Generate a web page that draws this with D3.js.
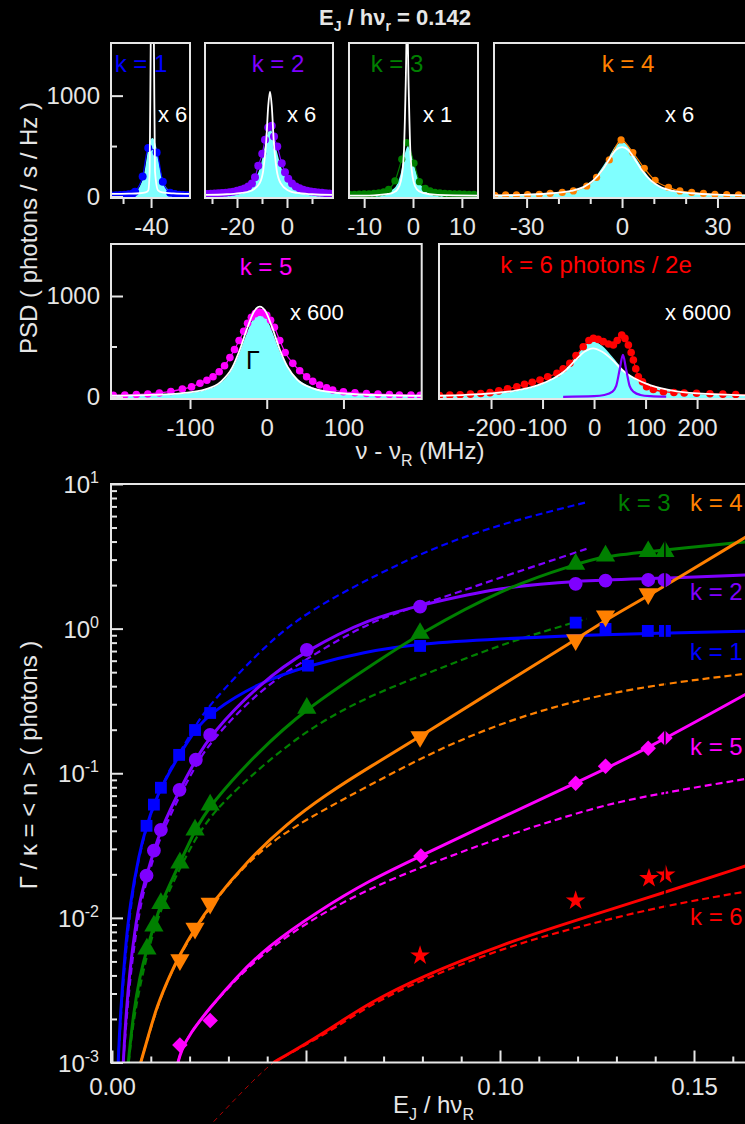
<!DOCTYPE html>
<html>
<head>
<meta charset="utf-8">
<script src="https://cdn.jsdelivr.net/npm/d3@7"></script>
<style>
body { margin: 0; background: #000; }
svg { display: block; background: #000; font-family: "Liberation Sans", Arial, sans-serif; }
</style>
</head>
<body>
<svg width="745" height="1124"></svg>
<script>
//main plot: Gamma/kappa = <n> vs E_J / h nu_R, measured points
var k1X = [0.0089, 0.0108, 0.0126, 0.0173, 0.0214, 0.0253, 0.0505, 0.0794, 0.1195, 0.1272, 0.1381, 0.1425],
    k1Y = [0.0433, 0.0607, 0.0794, 0.134, 0.199, 0.261, 0.555, 0.759, 1.10, 0.995, 0.964, 0.964];
var k2X = [0.0089, 0.0108, 0.0126, 0.0174, 0.0216, 0.0253, 0.0502, 0.0794, 0.1195, 0.1272, 0.1382, 0.1424],
    k2Y = [0.0196, 0.0292, 0.0406, 0.0768, 0.124, 0.184, 0.713, 1.42, 2.04, 2.15, 2.17, 2.17];
var k3X = [0.0090, 0.0108, 0.0126, 0.0175, 0.0214, 0.0253, 0.0502, 0.0794, 0.1195, 0.1272, 0.1382, 0.1425],
    k3Y = [0.0061, 0.0088, 0.0126, 0.0240, 0.0406, 0.0604, 0.282, 0.929, 2.79, 3.18, 3.41, 3.41];
var k4X = [0.0175, 0.0214, 0.0253, 0.0794, 0.1195, 0.1272, 0.1382],
    k4Y = [0.00512, 0.00847, 0.0126, 0.179, 0.836, 1.22, 1.74];
var k5X = [0.0175, 0.0253, 0.0796, 0.1195, 0.1272, 0.1382, 0.1425],
    k5Y = [0.00132, 0.00195, 0.0268, 0.0853, 0.112, 0.149, 0.175];
var k6X = [0.0794, 0.1195, 0.1384, 0.1427],
    k6Y = [0.00548, 0.01315, 0.0188, 0.0199];

//solid curves
var k1FitX = [0.0016, 0.0021, 0.0034, 0.0046, 0.0070, 0.0089, 0.0108, 0.0126, 0.0173, 0.0214, 0.0253, 0.0375, 0.0505, 0.065, 0.0794, 0.100, 0.120, 0.140, 0.164],
    k1FitY = [0.001, 0.00207, 0.0060, 0.0123, 0.028, 0.0433, 0.0607, 0.0794, 0.134, 0.199, 0.261, 0.42, 0.555, 0.69, 0.79, 0.85, 0.90, 0.93, 0.96];
var k2FitX = [0.0029, 0.0036, 0.0046, 0.0059, 0.0072, 0.0089, 0.0108, 0.0126, 0.0174, 0.0216, 0.0253, 0.0381, 0.0502, 0.0665, 0.0794, 0.1008, 0.1195, 0.140, 0.164],
    k2FitY = [0.001, 0.00213, 0.00437, 0.00825, 0.0133, 0.0196, 0.0292, 0.0406, 0.0768, 0.124, 0.184, 0.419, 0.713, 1.18, 1.45, 1.95, 2.14, 2.22, 2.35];
var k3FitX = [0.0042, 0.0055, 0.0072, 0.0090, 0.0108, 0.0126, 0.0175, 0.0214, 0.0253, 0.0375, 0.0502, 0.0665, 0.0794, 0.1008, 0.1195, 0.1272, 0.1382, 0.164],
    k3FitY = [0.001, 0.0022, 0.0040, 0.0061, 0.0088, 0.0126, 0.0240, 0.0406, 0.0604, 0.14, 0.282, 0.55, 0.929, 1.9, 2.79, 3.18, 3.41, 4.0];
var k4FitX = [0.0074, 0.0093, 0.0115, 0.0149, 0.0175, 0.0214, 0.0253, 0.035, 0.045, 0.055, 0.0665, 0.0794, 0.100, 0.1195, 0.1272, 0.1382, 0.164],
    k4FitY = [0.001, 0.0015, 0.00243, 0.0040, 0.0056, 0.0085, 0.0122, 0.025, 0.0447, 0.0708, 0.111, 0.179, 0.40, 0.836, 1.15, 1.68, 4.4];
var k5FitX = [0.0170, 0.0178, 0.0200, 0.0253, 0.0317, 0.0399, 0.0528, 0.0665, 0.0796, 0.100, 0.1195, 0.1382, 0.164],
    k5FitY = [0.001, 0.0012, 0.00158, 0.0024, 0.0038, 0.0063, 0.011, 0.0183, 0.0268, 0.049, 0.0853, 0.149, 0.36];
var k6FitX = [0.0416, 0.050, 0.057, 0.0665, 0.0794, 0.1008, 0.1195, 0.1425, 0.164],
    k6FitY = [0.001, 0.00135, 0.00177, 0.0026, 0.0039, 0.0066, 0.0096, 0.0150, 0.0232];

//dashed curves
var k1DashX = [0.00155, 0.00335, 0.0067, 0.0126, 0.0173, 0.0214, 0.0245, 0.0399, 0.0510, 0.0691, 0.0837, 0.1008, 0.1223],
    k1DashY = [0.001, 0.0060, 0.0295, 0.083, 0.1375, 0.209, 0.287, 0.792, 1.346, 2.43, 3.7, 5.36, 7.48];
var k2DashX = [0.0029, 0.0046, 0.0072, 0.0089, 0.0108, 0.0126, 0.0174, 0.0216, 0.0253, 0.0381, 0.051, 0.0665, 0.0794, 0.1008, 0.1223],
    k2DashY = [0.001, 0.0040, 0.0120, 0.0178, 0.0265, 0.037, 0.070, 0.113, 0.165, 0.38, 0.64, 1.12, 1.45, 2.29, 3.56];
var k3DashX = [0.0043, 0.0056, 0.0090, 0.0126, 0.0175, 0.0214, 0.0253, 0.0313, 0.0485, 0.0665, 0.0837, 0.1008, 0.1223],
    k3DashY = [0.001, 0.0021, 0.0057, 0.0117, 0.022, 0.035, 0.050, 0.075, 0.19, 0.348, 0.518, 0.79, 1.17];
var k4DashX = [0.0074, 0.0115, 0.0149, 0.0175, 0.0214, 0.0253, 0.0313, 0.0399, 0.050, 0.0665, 0.0837, 0.1008, 0.1195, 0.140, 0.164],
    k4DashY = [0.001, 0.0024, 0.0040, 0.0055, 0.0083, 0.0118, 0.019, 0.032, 0.048, 0.083, 0.145, 0.225, 0.32, 0.41, 0.49];
var k5DashX = [0.0170, 0.0178, 0.0200, 0.0253, 0.0317, 0.0399, 0.0528, 0.0665, 0.0796, 0.100, 0.1195, 0.1335, 0.164],
    k5DashY = [0.001, 0.0012, 0.00158, 0.0024, 0.0037, 0.0060, 0.0103, 0.016, 0.0224, 0.036, 0.0528, 0.067, 0.092];
var k6DashX = [0.0416, 0.050, 0.057, 0.0665, 0.0794, 0.1008, 0.1195, 0.1425, 0.164],
    k6DashY = [0.001, 0.00133, 0.0017, 0.0025, 0.0037, 0.0062, 0.0086, 0.0122, 0.0153];
//part of the k = 6 dashed curve drawn below the axis
var k6TailX = [0.0262, 0.0373, 0.0416],
    k6TailY = [0.00039, 0.0008, 0.001];

var mainXTicks = [0, 0.05, 0.10, 0.15],
    mainXLabels = ["0.00", "", "0.10", "0.15"],
    mainYExp = [-3, -2, -1, 0, 1];
var ejCut = 0.1425;

//PSD panels (MHz, photons / s / Hz)
var p1DotX = [-54, -52.5, -51, -49.5, -48, -46.5, -45.7, -43.0, -41.0, -38.0, -35.8, -33.2, -31.5, -30, -28.5, -27],
    p1DotY = [10, 12, 14, 17, 22, 30, 48, 197, 480, 436, 147, 38, 25, 18, 14, 12];
var p1FillX = [-54.3, -50, -46, -44, -42.5, -41.5, -40.5, -39.5, -38.5, -37.5, -36.5, -35, -33, -30, -26.1],
    p1FillY = [12, 20, 45, 100, 220, 390, 540, 580, 530, 390, 240, 110, 55, 25, 15];
var p1WhiteX = [-54.3, -48, -44, -42, -41, -40.5, -40.1, -39.55, -39.0, -38.6, -37.5, -36, -32, -26.1],
    p1WhiteY = [25, 28, 32, 40, 60, 250, 1600, 2500, 1600, 250, 60, 40, 30, 25];

var p2DotX = [-32, -30.5, -29, -27.5, -26, -24.5, -23, -21.5, -20, -18.5, -17, -15.5, -14, -12.8, -11.5, -9.9, -8.8, -7.5, -6.1, -5.2, -3.9, -2.1, -0.8, 0.5, 2, 3.5, 5, 6.5, 8, 9.5, 11, 12.5, 14, 15.5, 17],
    p2DotY = [25, 27, 29, 31, 34, 38, 42, 48, 56, 66, 80, 100, 130, 190, 306, 423, 562, 685, 701, 595, 496, 330, 240, 175, 130, 100, 82, 68, 58, 50, 44, 40, 36, 33, 30];
var p2FillX = [-32.8, -26, -20, -16, -13, -11, -9.5, -8, -6.8, -5.5, -4, -2.5, -0.5, 2, 6, 12, 18.4],
    p2FillY = [25, 35, 60, 100, 170, 270, 420, 600, 680, 600, 440, 300, 190, 110, 65, 38, 28];
var p2WhiteX = [-32.8, -24, -18, -14, -11, -9.5, -8.3, -7.5, -6.8, -6.1, -5.3, -4.1, -2.5, 0.5, 4, 10, 18.4],
    p2WhiteY = [15, 22, 35, 60, 130, 260, 550, 900, 1040, 900, 550, 260, 130, 60, 35, 22, 15];

var p3DotX = [-13, -12, -11, -10, -9, -8, -7, -6, -5, -3.7, -2.3, -1.3, 0.2, 1.3, 2.5, 3.5, 4.5, 5.5, 6.5, 7.5, 8.5, 9.5, 10.5, 11.5, 12.5],
    p3DotY = [20, 22, 24, 25, 27, 30, 35, 45, 70, 154, 370, 535, 330, 147, 80, 55, 42, 35, 30, 28, 26, 25, 24, 22, 21];
var p3FillX = [-13.1, -9, -6, -4.5, -3.3, -2.5, -1.8, -1, -0.2, 0.6, 1.5, 2.7, 4.5, 7, 10, 13.3],
    p3FillY = [15, 20, 35, 60, 120, 230, 400, 500, 400, 250, 130, 70, 40, 25, 20, 15];
var p3WhiteX = [-13.1, -8, -5, -4, -3.2, -2.5, -1.9, -1.5, -1.2, -0.9, -0.5, 0.1, 0.8, 2, 5, 13.3],
    p3WhiteY = [8, 12, 25, 40, 70, 150, 400, 1100, 1800, 1100, 400, 150, 70, 35, 15, 8];

var p4DotX = [-40, -36.6, -33.2, -29.7, -26, -22.6, -18.8, -15.3, -11.1, -8, -4.0, -0.3, 3.4, 7.0, 10.4, 14.6, 18.2, 21.9, 25.6, 29.2, 32.9, 36.6, 40.2],
    p4DotY = [12, 15, 16, 18, 22, 30, 40, 55, 104, 190, 363, 561, 436, 280, 160, 90, 55, 40, 30, 22, 18, 15, 13];
var p4FillX = [-40.2, -30, -22, -16, -12, -9, -6, -4, -2, 0, 2, 4, 6, 9, 12, 16, 22, 30, 44],
    p4FillY = [12, 20, 35, 60, 100, 170, 300, 400, 500, 540, 500, 400, 300, 170, 100, 60, 35, 20, 10];
var p4WhiteX = p4FillX,
    p4WhiteY = [10, 18, 32, 55, 95, 160, 270, 370, 460, 490, 460, 370, 270, 160, 95, 55, 32, 18, 9];

var p5DotX = [-200, -185, -170, -155, -140, -125, -110, -98, -87, -78, -70, -62, -55, -48, -42, -36, -30, -25, -20, -15, -10, -5, 0, 5, 10, 17, 24, 34, 43, 52, 60, 69, 78, 86, 100, 115, 130, 145, 160, 173, 188, 200],
    p5DotY = [17, 20, 24, 30, 40, 55, 78, 100, 136, 165, 201, 250, 310, 390, 470, 560, 650, 730, 790, 825, 840, 835, 810, 760, 690, 560, 440, 333, 260, 201, 155, 119, 90, 69, 52, 42, 35, 28, 24, 20, 18, 17];
var p5FillX = [-203, -150, -110, -80, -60, -45, -35, -25, -17, -9, -1, 7, 17, 27, 40, 60, 90, 130, 202],
    p5FillY = [10, 18, 35, 70, 140, 280, 450, 650, 790, 845, 790, 650, 450, 300, 180, 95, 45, 22, 10];
var p5WhiteX = p5FillX,
    p5WhiteY = [12, 20, 38, 75, 150, 290, 470, 690, 840, 894, 840, 690, 470, 300, 170, 85, 42, 22, 12];

var p6DotX = [-300, -280, -260, -240, -220, -202, -185, -168, -150, -135, -120, -105, -90, -72, -60, -47, -35, -21, -10, -1.3, 8, 18, 28, 37.5, 45, 53.7, 60, 66.6, 72, 76.3, 81, 86, 94, 102, 115, 134.6, 155, 175, 199, 225, 250, 275, 300],
    p6DotY = [15, 18, 22, 28, 35, 43, 60, 80, 102, 125, 145, 168, 200, 235, 280, 334, 410, 498, 560, 581, 570, 548, 525, 515, 560, 614, 580, 515, 440, 366, 280, 201, 150, 102, 75, 52, 45, 40, 37, 32, 28, 24, 20];
var p6FillX = [-301, -200, -150, -110, -80, -55, -35, -18, -2, 15, 35, 55, 80, 110, 150, 200, 326],
    p6FillY = [10, 30, 60, 110, 180, 280, 400, 510, 555, 510, 400, 280, 180, 110, 60, 30, 10];
var p6WhiteX = p6FillX,
    p6WhiteY = [12, 35, 65, 115, 180, 265, 370, 450, 482, 450, 370, 265, 180, 115, 65, 35, 12];
var p6PeakX = [-60, 0, 20, 35, 43, 50, 56, 62, 69, 77, 90, 110, 140],
    p6PeakY = [2, 8, 20, 50, 110, 280, 416, 280, 110, 50, 20, 8, 3];

var colors = {
    "k1": "#0000ff",
    "k2": "#7f00ff",
    "k3": "#008000",
    "k4": "#ff8000",
    "k5": "#ff00ff",
    "k6": "#ff0000"
};
var fg = "#e6e6e6",
    cyan = "#80ffff";

var svg = d3.select("svg");
var defs = svg.append("defs");

function pairs(xs, ys) {
    return d3.zip(xs, ys);
}

function styleAxis(g) {
    g.select(".domain").remove();
    g.selectAll("line").attr("stroke", fg).attr("stroke-width", 2);
    g.selectAll("text").attr("fill", fg).attr("font-size", 24)
        .attr("font-family", "'Liberation Sans', Arial, sans-serif");
}

//title
var title = svg.append("text")
    .attr("x", 395).attr("y", 25)
    .attr("text-anchor", "middle")
    .attr("fill", fg).attr("font-size", 22).attr("font-weight", "bold");
title.append("tspan").text("E");
title.append("tspan").attr("dy", 6).attr("font-size", 14).text("J");
title.append("tspan").attr("dy", -6).text(" / hν");
title.append("tspan").attr("dy", 6).attr("font-size", 14).text("r");
title.append("tspan").attr("dy", -6).text(" = 0.142");

//PSD panels
var row1Y = d3.scaleLinear().domain([-15, 1522]).range([198, 43]);
var row2Y = d3.scaleLinear().domain([-20, 1515]).range([399, 244]);

var panels = [
    {id: 1, left: 111, right: 190, ys: row1Y, dom: [-54.3, -26.1], major: [-40], minor: [-50],
        dotX: p1DotX, dotY: p1DotY, fillX: p1FillX, fillY: p1FillY, whiteX: p1WhiteX, whiteY: p1WhiteY, color: colors.k1, r: 4},
    {id: 2, left: 205, right: 333, ys: row1Y, dom: [-32.8, 18.4], major: [-20, 0], minor: [-30, -10, 10],
        dotX: p2DotX, dotY: p2DotY, fillX: p2FillX, fillY: p2FillY, whiteX: p2WhiteX, whiteY: p2WhiteY, color: colors.k2, r: 4},
    {id: 3, left: 349, right: 478, ys: row1Y, dom: [-13.1, 13.3], major: [-10, 0, 10], minor: [],
        dotX: p3DotX, dotY: p3DotY, fillX: p3FillX, fillY: p3FillY, whiteX: p3WhiteX, whiteY: p3WhiteY, color: colors.k3, r: 3.6},
    {id: 4, left: 494, right: 762, ys: row1Y, dom: [-40.25, 44.0], major: [-30, 0, 30], minor: [-20, -10, 10, 20, 40],
        dotX: p4DotX, dotY: p4DotY, fillX: p4FillX, fillY: p4FillY, whiteX: p4WhiteX, whiteY: p4WhiteY, color: colors.k4, r: 3.6},
    {id: 5, left: 111, right: 421.7, ys: row2Y, dom: [-203, 202], major: [-100, 0, 100], minor: [],
        dotX: p5DotX, dotY: p5DotY, fillX: p5FillX, fillY: p5FillY, whiteX: p5WhiteX, whiteY: p5WhiteY, color: colors.k5, r: 3.8},
    {id: 6, left: 439, right: 762, ys: row2Y, dom: [-301, 326], major: [-200, -100, 0, 100, 200], minor: [],
        dotX: p6DotX, dotY: p6DotY, fillX: p6FillX, fillY: p6FillY, whiteX: p6WhiteX, whiteY: p6WhiteY, color: colors.k6, r: 3.8}
];

panels.forEach(function (p) {
    var sx = d3.scaleLinear().domain(p.dom).range([p.left, p.right]),
        sy = p.ys,
        top = sy.range()[1],
        bottom = sy.range()[0];

    defs.append("clipPath").attr("id", "clip" + p.id)
        .append("rect")
        .attr("x", p.left).attr("y", top)
        .attr("width", p.right - p.left).attr("height", bottom - top);

    var g = svg.append("g");
    var inner = g.append("g").attr("clip-path", "url(#clip" + p.id + ")");

    inner.append("path")
        .datum(pairs(p.fillX, p.fillY))
        .attr("fill", cyan)
        .attr("d", d3.area()
            .x(d => sx(d[0]))
            .y0(bottom)
            .y1(d => sy(d[1]))
            .curve(d3.curveMonotoneX));

    var line = d3.line().x(d => sx(d[0])).y(d => sy(d[1])).curve(d3.curveMonotoneX);

    inner.append("path")
        .datum(pairs(p.dotX, p.dotY))
        .attr("fill", "none").attr("stroke", p.color).attr("stroke-width", 1.2)
        .attr("d", line);
    inner.selectAll("circle.dot")
        .data(pairs(p.dotX, p.dotY))
        .enter().append("circle")
        .attr("class", "dot")
        .attr("cx", d => sx(d[0])).attr("cy", d => sy(d[1]))
        .attr("r", p.r).attr("fill", p.color);

    inner.append("path")
        .datum(pairs(p.whiteX, p.whiteY))
        .attr("fill", "none").attr("stroke", "#ffffff").attr("stroke-width", 1.8)
        .attr("d", line);

    if (p.id === 6) {
        inner.append("path")
            .datum(pairs(p6PeakX, p6PeakY))
            .attr("fill", "none").attr("stroke", colors.k2).attr("stroke-width", 2.2)
            .attr("d", line);
    }

    g.append("rect")
        .attr("x", p.left).attr("y", top)
        .attr("width", p.right - p.left).attr("height", bottom - top)
        .attr("fill", "none").attr("stroke", fg).attr("stroke-width", 2);

    g.append("g")
        .attr("transform", "translate(0," + bottom + ")")
        .call(d3.axisBottom(sx).tickValues(p.major).tickSize(10).tickPadding(10)
            .tickFormat(d => String(d)))
        .call(styleAxis);
    if (p.minor.length) {
        g.append("g")
            .attr("transform", "translate(0," + bottom + ")")
            .call(d3.axisBottom(sx).tickValues(p.minor).tickSize(6).tickFormat(""))
            .call(styleAxis);
    }
});

//y axes of the two PSD rows
[row1Y, row2Y].forEach(function (sy) {
    svg.append("g")
        .attr("transform", "translate(111,0)")
        .call(d3.axisLeft(sy).tickValues([0, 1000]).tickSizeInner(-12).tickSizeOuter(0)
            .tickPadding(11).tickFormat(d3.format("d")))
        .call(styleAxis);
    svg.append("g")
        .attr("transform", "translate(111,0)")
        .call(d3.axisLeft(sy).tickValues([500]).tickSizeInner(-6).tickSizeOuter(0).tickFormat(""))
        .call(styleAxis);
});

//panel texts
var panelText = [
    {t: "k = 1", x: 141, y: 72, c: colors.k1, a: "middle", s: 24},
    {t: "k = 2", x: 278, y: 72, c: colors.k2, a: "middle", s: 24},
    {t: "k = 3", x: 397, y: 72, c: colors.k3, a: "middle", s: 24},
    {t: "k = 4", x: 628, y: 72, c: colors.k4, a: "middle", s: 24},
    {t: "x 6", x: 158, y: 122, c: "#fff", a: "start", s: 22},
    {t: "x 6", x: 287, y: 122, c: "#fff", a: "start", s: 22},
    {t: "x 1", x: 423, y: 122, c: "#fff", a: "start", s: 22},
    {t: "x 6", x: 665, y: 122, c: "#fff", a: "start", s: 22},
    {t: "k = 5", x: 266, y: 275, c: colors.k5, a: "middle", s: 24},
    {t: "x 600", x: 290, y: 320, c: "#fff", a: "start", s: 22},
    {t: "Γ", x: 246, y: 369, c: "#000", a: "start", s: 25},
    {t: "k = 6 photons / 2e", x: 596, y: 273, c: colors.k6, a: "middle", s: 24},
    {t: "x 6000", x: 665, y: 320, c: "#fff", a: "start", s: 22}
];
svg.append("g").selectAll("text")
    .data(panelText)
    .enter().append("text")
    .attr("x", d => d.x).attr("y", d => d.y)
    .attr("text-anchor", d => d.a)
    .attr("font-size", d => d.s)
    .attr("fill", d => d.c)
    .text(d => d.t);

//axis titles of the PSD panels
svg.append("text")
    .attr("transform", "translate(37,228) rotate(-90)")
    .attr("text-anchor", "middle").attr("fill", fg).attr("font-size", 24)
    .text("PSD ( photons / s / Hz )");
var nuLabel = svg.append("text")
    .attr("x", 420).attr("y", 459)
    .attr("text-anchor", "middle").attr("fill", fg).attr("font-size", 24);
nuLabel.append("tspan").text("ν - ν");
nuLabel.append("tspan").attr("dy", 7).attr("font-size", 16).text("R");
nuLabel.append("tspan").attr("dy", -7).text(" (MHz)");

//main plot
var xMain = d3.scaleLinear().domain([0, 0.17]).range([112, 771.6]);
var yMain = d3.scaleLog().domain([1e-3, 10]).range([1062.5, 484]);

defs.append("clipPath").attr("id", "mainClip")
    .append("rect")
    .attr("x", 111).attr("y", 484)
    .attr("width", 700).attr("height", 578.5);

var mainLine = d3.line()
    .x(d => xMain(d[0]))
    .y(d => yMain(d[1]))
    .curve(d3.curveBasis);

var series = [
    {X: k1X, Y: k1Y, fX: k1FitX, fY: k1FitY, dX: k1DashX, dY: k1DashY, c: colors.k1, sym: "square"},
    {X: k2X, Y: k2Y, fX: k2FitX, fY: k2FitY, dX: k2DashX, dY: k2DashY, c: colors.k2, sym: "circle"},
    {X: k3X, Y: k3Y, fX: k3FitX, fY: k3FitY, dX: k3DashX, dY: k3DashY, c: colors.k3, sym: "up"},
    {X: k4X, Y: k4Y, fX: k4FitX, fY: k4FitY, dX: k4DashX, dY: k4DashY, c: colors.k4, sym: "down"},
    {X: k5X, Y: k5Y, fX: k5FitX, fY: k5FitY, dX: k5DashX, dY: k5DashY, c: colors.k5, sym: "diamond"},
    {X: k6X, Y: k6Y, fX: k6FitX, fY: k6FitY, dX: k6DashX, dY: k6DashY, c: colors.k6, sym: "star"}
];

var gMain = svg.append("g");
var gCurves = gMain.append("g").attr("clip-path", "url(#mainClip)");

//thin tail of the k = 6 dashed curve, outside the frame
gMain.append("path")
    .datum(pairs(k6TailX, k6TailY))
    .attr("fill", "none").attr("stroke", "#b00000").attr("stroke-width", 1)
    .attr("stroke-dasharray", "5,4")
    .attr("d", mainLine);

series.forEach(function (s) {
    gCurves.append("path")
        .datum(pairs(s.dX, s.dY))
        .attr("fill", "none").attr("stroke", s.c).attr("stroke-width", 2.2)
        .attr("stroke-dasharray", "7,4")
        .attr("d", mainLine);
});
series.forEach(function (s) {
    gCurves.append("path")
        .datum(pairs(s.fX, s.fY))
        .attr("fill", "none").attr("stroke", s.c).attr("stroke-width", 3)
        .attr("d", mainLine);
});

var symbols = {
    "square": {type: d3.symbolSquare, size: 140, rot: 0},
    "circle": {type: d3.symbolCircle, size: 150, rot: 0},
    "up": {type: d3.symbolTriangle, size: 160, rot: 0},
    "down": {type: d3.symbolTriangle, size: 160, rot: 180},
    "diamond": {type: d3.symbolSquare, size: 120, rot: 45},
    "star": {type: d3.symbolStar, size: 120, rot: 0}
};
series.forEach(function (s) {
    var sym = symbols[s.sym];
    gMain.append("g").selectAll("path")
        .data(pairs(s.X, s.Y))
        .enter().append("path")
        .attr("transform", d => "translate(" + xMain(d[0]) + "," + yMain(d[1]) + ") rotate(" + sym.rot + ")")
        .attr("d", d3.symbol().type(sym.type).size(sym.size))
        .attr("fill", s.c);
});

//thin black line at the E_J value of the spectra
gMain.append("line")
    .attr("x1", xMain(ejCut)).attr("x2", xMain(ejCut))
    .attr("y1", 484).attr("y2", 1062.5)
    .attr("stroke", "#000").attr("stroke-width", 1.5);

//frame
gMain.append("rect")
    .attr("x", 111).attr("y", 484)
    .attr("width", 700).attr("height", 578.5)
    .attr("fill", "none").attr("stroke", fg).attr("stroke-width", 2);

//x axis
var minorX = d3.range(1, 17).map(i => i / 100).filter(v => Math.abs(v * 20 - Math.round(v * 20)) > 1e-6);
gMain.append("g")
    .attr("transform", "translate(0,1062.5)")
    .call(d3.axisBottom(xMain).tickValues(mainXTicks).tickSizeInner(-12).tickSizeOuter(0)
        .tickPadding(15).tickFormat((d, i) => mainXLabels[i]))
    .call(styleAxis);
gMain.append("g")
    .attr("transform", "translate(0,1062.5)")
    .call(d3.axisBottom(xMain).tickValues(minorX).tickSizeInner(-6).tickSizeOuter(0).tickFormat(""))
    .call(styleAxis);

//y axis
var minorY = [];
mainYExp.slice(0, -1).forEach(function (e) {
    for (var m = 2; m < 10; m++) minorY.push(m * Math.pow(10, e));
});
gMain.append("g")
    .attr("transform", "translate(111,0)")
    .call(d3.axisLeft(yMain).tickValues(mainYExp.map(e => Math.pow(10, e)))
        .tickSizeInner(-12).tickSizeOuter(0).tickFormat(""))
    .call(styleAxis);
gMain.append("g")
    .attr("transform", "translate(111,0)")
    .call(d3.axisLeft(yMain).tickValues(minorY).tickSizeInner(-6).tickSizeOuter(0).tickFormat(""))
    .call(styleAxis);
var yLab = gMain.append("g").selectAll("text")
    .data(mainYExp)
    .enter().append("text")
    .attr("x", 99).attr("y", e => yMain(Math.pow(10, e)) + 9)
    .attr("text-anchor", "end").attr("fill", fg).attr("font-size", 24);
yLab.append("tspan").text("10");
yLab.append("tspan").attr("dy", -10).attr("font-size", 16).text(e => e < 0 ? "-" + (-e) : String(e));

//curve labels
var mainLabels = [
    {t: "k = 3", x: 618, y: 511, c: colors.k3},
    {t: "k = 4", x: 690, y: 511, c: colors.k4},
    {t: "k = 2", x: 690, y: 600, c: colors.k2},
    {t: "k = 1", x: 690, y: 660, c: colors.k1},
    {t: "k = 5", x: 690, y: 755, c: colors.k5},
    {t: "k = 6", x: 690, y: 925, c: colors.k6}
];
gMain.append("g").selectAll("text")
    .data(mainLabels)
    .enter().append("text")
    .attr("x", d => d.x).attr("y", d => d.y)
    .attr("font-size", 24).attr("fill", d => d.c)
    .text(d => d.t);

//axis titles
svg.append("text")
    .attr("transform", "translate(37,765) rotate(-90)")
    .attr("text-anchor", "middle").attr("fill", fg).attr("font-size", 24)
    .text("Γ / κ = < n > ( photons )");
var ejLabel = svg.append("text")
    .attr("x", 393).attr("y", 1113)
    .attr("fill", fg).attr("font-size", 24);
ejLabel.append("tspan").text("E");
ejLabel.append("tspan").attr("dy", 7).attr("font-size", 16).text("J");
ejLabel.append("tspan").attr("dy", -7).text(" / hν");
ejLabel.append("tspan").attr("dy", 7).attr("font-size", 16).text("R");
</script>
</body>
</html>
